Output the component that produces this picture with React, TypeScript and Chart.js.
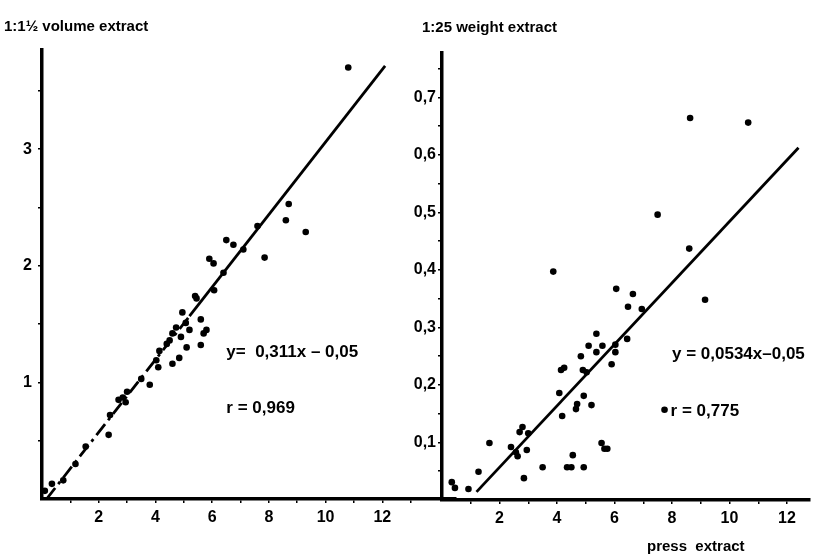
import React, { useEffect, useRef } from "react";
import { Chart, registerables } from "chart.js";

Chart.register(...registerables);

// ---- Left panel: press extract (x) vs 1:1½ volume extract (y) ----
const volumeX = [
  10.8, 8.7, 8.6, 9.3, 7.6, 7.85, 6.5, 6.75, 7.1, 5.9, 6.05, 6.4, 6.07, 5.4, 5.45, 5.6,
  5.8, 5.7, 5.6, 5.1, 4.95, 5.07, 5.2, 4.73, 4.6, 4.9, 4.5, 4.4, 4.84, 4.6, 4.14, 4.03,
  4.1, 3.5, 3.8, 3.0, 2.85, 2.7, 2.95, 2.4, 2.35, 1.54, 1.18, 0.75, 0.35, 0.1,
];
const volumeY = [
  3.7, 2.53, 2.39, 2.29, 2.34, 2.07, 2.22, 2.18, 2.14, 2.06, 2.02, 1.94, 1.79, 1.74, 1.72, 1.54,
  1.45, 1.42, 1.32, 1.3, 1.6, 1.51, 1.45, 1.47, 1.42, 1.39, 1.36, 1.33, 1.21, 1.16, 1.27, 1.19,
  1.13, 1.03, 0.98, 0.92, 0.87, 0.85, 0.83, 0.72, 0.55, 0.45, 0.3, 0.16, 0.13, 0.07,
];
const volumeSlope = 0.311;
const volumeIntercept = -0.05;
const volumeDashedRange = [0.16, 5.2];
const volumeSolidRange = [5.2, 12.1];

// ---- Right panel: press extract (x) vs 1:25 weight extract (y) ----
const weightX = [
  8.63, 10.65, 7.5, 8.6, 3.87, 6.06, 6.64, 6.47, 6.95, 9.15, 5.37, 6.44, 5.1, 5.58, 6.03, 5.37,
  6.03, 4.83, 5.9, 4.25, 4.14, 4.9, 5.03, 4.08, 4.93, 4.7, 4.66, 5.2, 4.18, 7.74, 2.8, 2.7,
  3.0, 1.65, 5.55, 5.65, 5.75, 2.4, 2.57, 2.63, 2.95, 4.55, 3.5, 4.35, 4.5, 4.93, 2.85, 1.27,
  0.34, 0.45, 0.92,
];
const weightY = [
  0.664, 0.656, 0.496, 0.437, 0.397, 0.367, 0.358, 0.336, 0.332, 0.348, 0.289, 0.28, 0.268, 0.268, 0.27, 0.257,
  0.257, 0.25, 0.236, 0.23, 0.226, 0.226, 0.222, 0.186, 0.181, 0.167, 0.158, 0.165, 0.146, 0.157, 0.127, 0.118,
  0.116, 0.099, 0.099, 0.089, 0.089, 0.092, 0.083, 0.076, 0.087, 0.078, 0.057, 0.057, 0.057, 0.057, 0.038, 0.049,
  0.031, 0.021, 0.019,
];
const weightSlope = 0.0534;
const weightIntercept = -0.05;
const weightRange = [1.2, 12.4];

// ---- Axis ticks ----
const xMajorTicks = [2, 4, 6, 8, 10, 12];
const xMinorTicks = [1, 3, 5, 7, 9, 11, 13];
const volumeMajorTicks = [1, 2, 3];
const volumeMinorTicks = [0.5, 1.5, 2.5, 3.5];
const weightMajorTicks = [0.1, 0.2, 0.3, 0.4, 0.5, 0.6, 0.7];
const weightMinorTicks = [0.05, 0.15, 0.25, 0.35, 0.45, 0.55, 0.65, 0.75];

const FONT = "'Liberation Sans', Arial, sans-serif";

type TextItem = { text: string; x: number; y: number; data?: boolean; size: number };

function makeTextPlugin(items: TextItem[]) {
  return {
    id: "annotText",
    afterDraw(chart: any) {
      const ctx = chart.ctx;
      ctx.save();
      ctx.fillStyle = "#000";
      ctx.textBaseline = "middle";
      ctx.textAlign = "left";
      for (const t of items) {
        let px = t.x;
        let py = t.y;
        if (t.data) {
          px = chart.scales.x.getPixelForValue(t.x);
          py = chart.scales.y.getPixelForValue(t.y);
        }
        ctx.font = `bold ${t.size}px ${FONT}`;
        ctx.fillText(t.text, px, py);
      }
      ctx.restore();
    },
  };
}

function fitLine(slope: number, intercept: number, range: number[]) {
  return range.map((x) => ({ x, y: slope * x + intercept }));
}

function makeScale(
  min: number,
  max: number,
  major: number[],
  minor: number[],
  fmt: (v: number) => string,
  fit: (s: any) => void,
  padding: number,
  tickLength: number
) {
  const all = [...major, ...minor].filter((v) => v > min && v < max).sort((a, b) => a - b);
  return {
    type: "linear",
    min,
    max,
    afterBuildTicks: (s: any) => {
      s.ticks = all.map((v) => ({ value: v }));
    },
    afterFit: fit,
    ticks: {
      autoSkip: false,
      maxRotation: 0,
      padding,
      color: "#000",
      font: { family: FONT, size: 16, weight: "bold" },
      callback: (v: number) => (major.some((m) => Math.abs(m - v) < 1e-9) ? fmt(v) : ""),
    },
    grid: {
      drawOnChartArea: false,
      drawTicks: true,
      tickLength,
      color: "#000",
      lineWidth: 1.5,
    },
    border: { display: true, color: "#000", width: 3.5 },
  };
}

function Panel(props: {
  left: number;
  width: number;
  padTop: number;
  xMax: number;
  yMax: number;
  yMajor: number[];
  yMinor: number[];
  yFmt: (v: number) => string;
  xAxisHeight: number;
  yAxisWidth: number;
  datasets: any[];
  texts: TextItem[];
  yTickPad: number;
  z: number;
}) {
  const ref = useRef<HTMLCanvasElement>(null);
  useEffect(() => {
    if (!ref.current) return;
    const chart = new Chart(ref.current, {
      type: "scatter",
      data: { datasets: props.datasets },
      options: {
        animation: false,
        responsive: false,
        maintainAspectRatio: false,
        layout: { padding: { top: props.padTop, right: 0, left: 0, bottom: 0 } },
        plugins: {
          legend: { display: false },
          tooltip: { enabled: false },
          title: { display: false },
        },
        scales: {
          x: makeScale(
            0,
            props.xMax,
            xMajorTicks,
            xMinorTicks,
            (v) => String(v),
            (s: any) => {
              s.height = props.xAxisHeight;
            },
            5,
            4
          ),
          y: makeScale(
            0,
            props.yMax,
            props.yMajor,
            props.yMinor,
            props.yFmt,
            (s: any) => {
              s.width = props.yAxisWidth;
            },
            props.yTickPad,
            4
          ),
        },
      } as any,
      plugins: [makeTextPlugin(props.texts)],
    });
    return () => chart.destroy();
  }, []);
  return (
    <canvas
      ref={ref}
      width={props.width}
      height={554}
      style={{
        position: "absolute",
        left: props.left,
        top: 0,
        width: props.width,
        height: 554,
        zIndex: props.z,
        background: "transparent",
      }}
    />
  );
}

const pointStyle = {
  backgroundColor: "#000",
  borderColor: "#000",
  borderWidth: 0,
  pointRadius: 3.3,
  showLine: false,
  clip: false,
};
const lineStyle = {
  borderColor: "#000",
  borderWidth: 2.8,
  pointRadius: 0,
  showLine: true,
  fill: false,
};

export default function App() {
  const leftDatasets = [
    { ...pointStyle, data: volumeX.map((x, i) => ({ x, y: volumeY[i] })) },
    { ...lineStyle, borderDash: [14, 5, 3, 5], data: fitLine(volumeSlope, volumeIntercept, volumeDashedRange) },
    { ...lineStyle, data: fitLine(volumeSlope, volumeIntercept, volumeSolidRange) },
  ];
  const rightDatasets = [
    { ...pointStyle, data: weightX.map((x, i) => ({ x, y: weightY[i] })) },
    { ...lineStyle, data: fitLine(weightSlope, weightIntercept, weightRange) },
  ];
  return (
    <div style={{ position: "fixed", left: 0, top: 0, width: 814, height: 554, background: "#fff" }}>
      <Panel
        left={0}
        width={460}
        padTop={50}
        xMax={14.6}
        yMax={3.85}
        yMajor={volumeMajorTicks}
        yMinor={volumeMinorTicks}
        yFmt={(v) => String(v)}
        xAxisHeight={55}
        yAxisWidth={42}
        yTickPad={6}
        z={2}
        datasets={leftDatasets}
        texts={[
          { text: "1:1½ volume extract", x: 4, y: 27, size: 15 },
          { text: "y=  0,311x – 0,05", x: 6.5, y: 1.26, data: true, size: 17 },
          { text: "r = 0,969", x: 6.5, y: 0.78, data: true, size: 17 },
        ]}
      />
      <Panel
        left={400}
        width={414}
        padTop={53}
        xMax={12.8}
        yMax={0.777}
        yMajor={weightMajorTicks}
        yMinor={weightMinorTicks}
        yFmt={(v) => v.toFixed(1).replace(".", ",")}
        xAxisHeight={54}
        yAxisWidth={42}
        yTickPad={2}
        z={1}
        datasets={rightDatasets}
        texts={[
          { text: "1:25 weight extract", x: 22, y: 28, size: 15 },
          { text: "y = 0,0534x–0,05", x: 8.0, y: 0.254, data: true, size: 17 },
          { text: "r = 0,775", x: 7.95, y: 0.155, data: true, size: 17 },
          { text: "press  extract", x: 247, y: 547, size: 15 },
        ]}
      />
    </div>
  );
}
